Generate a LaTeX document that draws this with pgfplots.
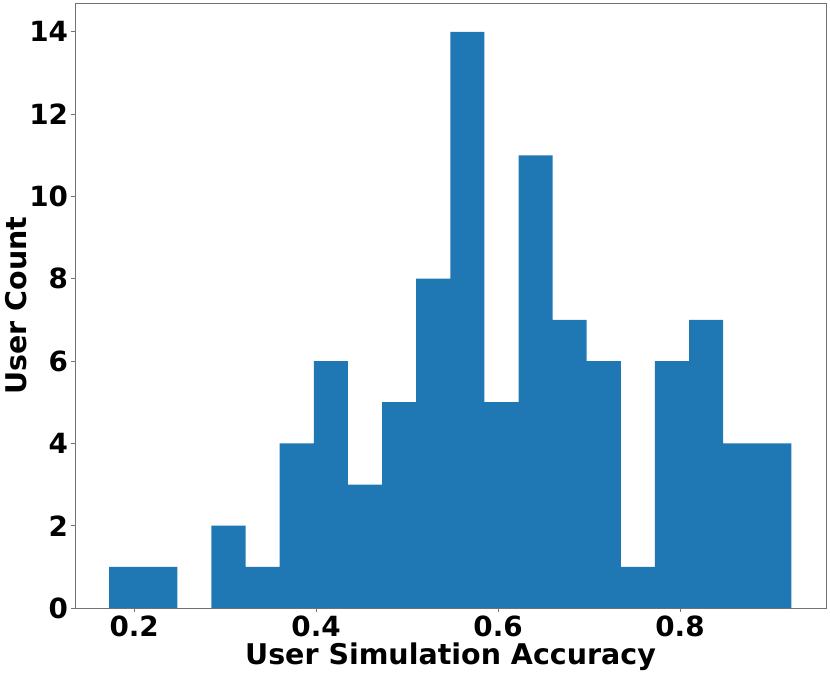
\documentclass[border=0pt]{standalone}
\usepackage{fontspec}
\setmainfont{DejaVu Sans}
\usepackage{pgfplots}
\pgfplotsset{compat=1.18}
\definecolor{tabblue}{HTML}{1F77B4}

\begin{document}
\begin{tikzpicture}
\begin{axis}[
  scale only axis, width=751pt, height=605pt,
  xmin=0.135, xmax=0.9605, ymin=0, ymax=14.7,
  xtick={0.2,0.4,0.6,0.8}, ytick={0,2,4,6,8,10,12,14},
  xticklabels={0.2,0.4,0.6,0.8},
  /pgf/number format/assume math mode=true,
  tick align=outside, major tick length=3.5pt,
  tick style={black!55, line width=0.8pt},
  axis line style={black!55, line width=0.8pt},
  xtick pos=bottom, ytick pos=left,
  tick label style={font=\fontsize{27.8}{32}\selectfont\bfseries},
  label style={font=\fontsize{28.5}{32}\selectfont\bfseries},
  xlabel={User Simulation Accuracy},
  ylabel={User Count},
  xticklabel style={yshift=-1pt},
  xlabel style={yshift=1pt},
  ylabel style={yshift=-4pt},
]
% bin left edges, last point closes the final bin
\addplot[ybar interval, fill=tabblue, draw=none] coordinates {
(0.1725,1) (0.2100,1) (0.2475,0) (0.2850,2) (0.3225,1)
(0.3600,4) (0.3975,6) (0.4350,3) (0.4725,5) (0.5100,8)
(0.5475,14) (0.5850,5) (0.6225,11) (0.6600,7) (0.6975,6)
(0.7350,1) (0.7725,6) (0.8100,7) (0.8475,4) (0.8850,4)
(0.9225,4)
};
\end{axis}
\pgfresetboundingbox
\path ([xshift=-75pt,yshift=-64pt]current axis.south west) rectangle ([xshift=4pt,yshift=3pt]current axis.north east);
\end{tikzpicture}
\end{document}
